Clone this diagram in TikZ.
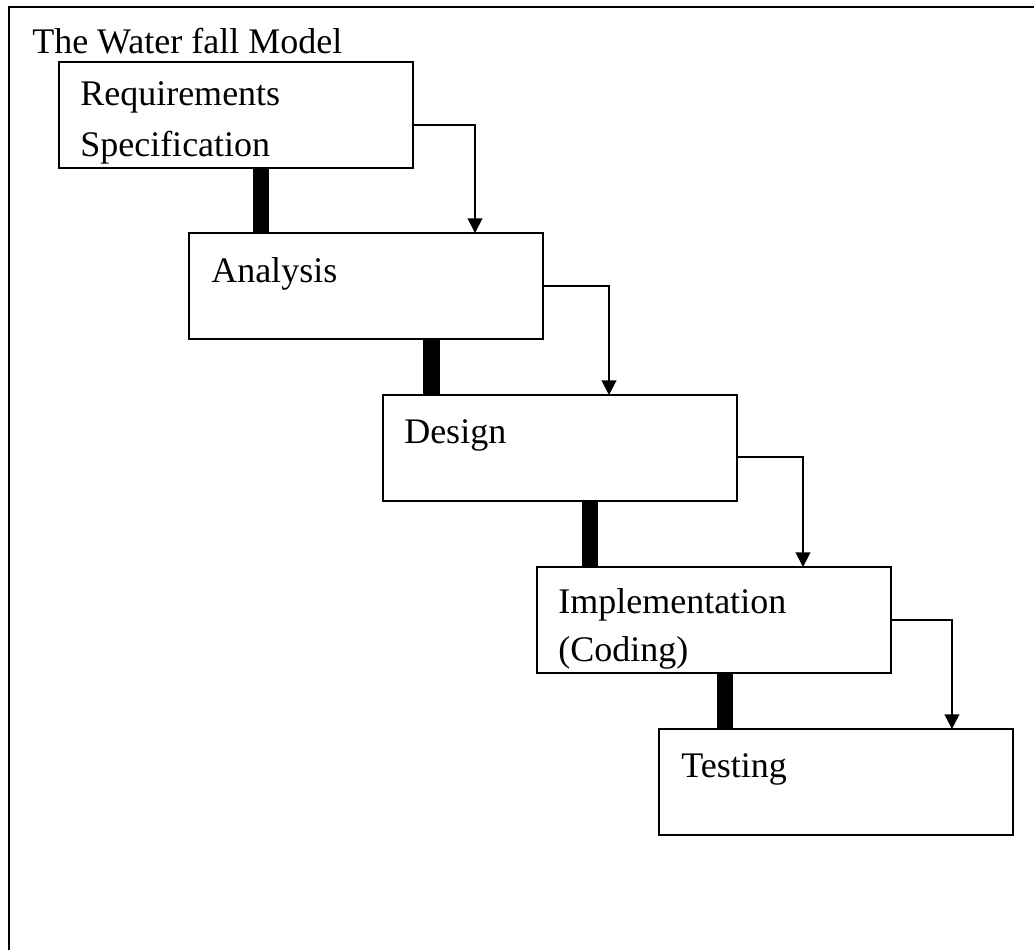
\documentclass[tikz,border=0pt]{standalone}
\usepackage{fontspec}
\setmainfont{Liberation Serif}
\usetikzlibrary{arrows.meta}

\begin{document}
\begin{tikzpicture}[
  x=0.75pt, y=-0.75pt,
  stagebox/.style={draw, line width=1.4pt*0.75, minimum width=265.5pt, minimum height=79.5pt,
                   inner sep=0pt, outer sep=0pt, anchor=north west},
  label/.style={anchor=base west, inner sep=0pt, font=\fontsize{27pt}{32pt}\selectfont},
  bar/.style={line width=12.4pt},
  flow/.style={line width=1.5pt, -{Triangle[width=11pt,length=11pt]}},
  frame/.style={line width=1.6pt},
]
\useasboundingbox (0,0) rectangle (1034,950);

% outer frame
\draw[frame] (9,950) -- (9,7) -- (1034,7);

% title
\node[label] (title) at (32,53) {The Water fall Model};

% stages
\node[stagebox] (req) at (59,62) {};
\node[stagebox] (ana) at (189,233) {};
\node[stagebox] (des) at (383,395) {};
\node[stagebox] (imp) at (537,567) {};
\node[stagebox] (tst) at (659,729) {};

% stage texts
\node[label] (reqa) at (80,105) {Requirements};
\node[label] (reqb) at (80,156) {Specification};
\node[label] (anat) at (211,282) {Analysis};
\node[label] (dest) at (404,443) {Design};
\node[label] (impa) at (558,613) {Implementation};
\node[label] (impb) at (558,661) {(Coding)};
\node[label] (tstt) at (681,777) {Testing};

% thick bars linking consecutive stages
\draw[bar] ([xshift=151.5pt]req.south west) -- ([xshift=151.5pt]req.south west |- ana.north);
\draw[bar] ([xshift=182pt]ana.south west) -- ([xshift=182pt]ana.south west |- des.north);
\draw[bar] ([xshift=155.2pt]des.south west) -- ([xshift=155.2pt]des.south west |- imp.north);
\draw[bar] ([xshift=141pt]imp.south west) -- ([xshift=141pt]imp.south west |- tst.north);

% flow arrows
\draw[flow] ([yshift=-7.5pt]req.east) -| ([xshift=214.5pt]ana.north west);
\draw[flow] (ana.east) -| ([xshift=169.5pt]des.north west);
\draw[flow] ([yshift=-6.4pt]des.east) -| ([xshift=199.5pt]imp.north west);
\draw[flow] (imp.east) -| ([xshift=219.7pt]tst.north west);
\end{tikzpicture}
\end{document}
